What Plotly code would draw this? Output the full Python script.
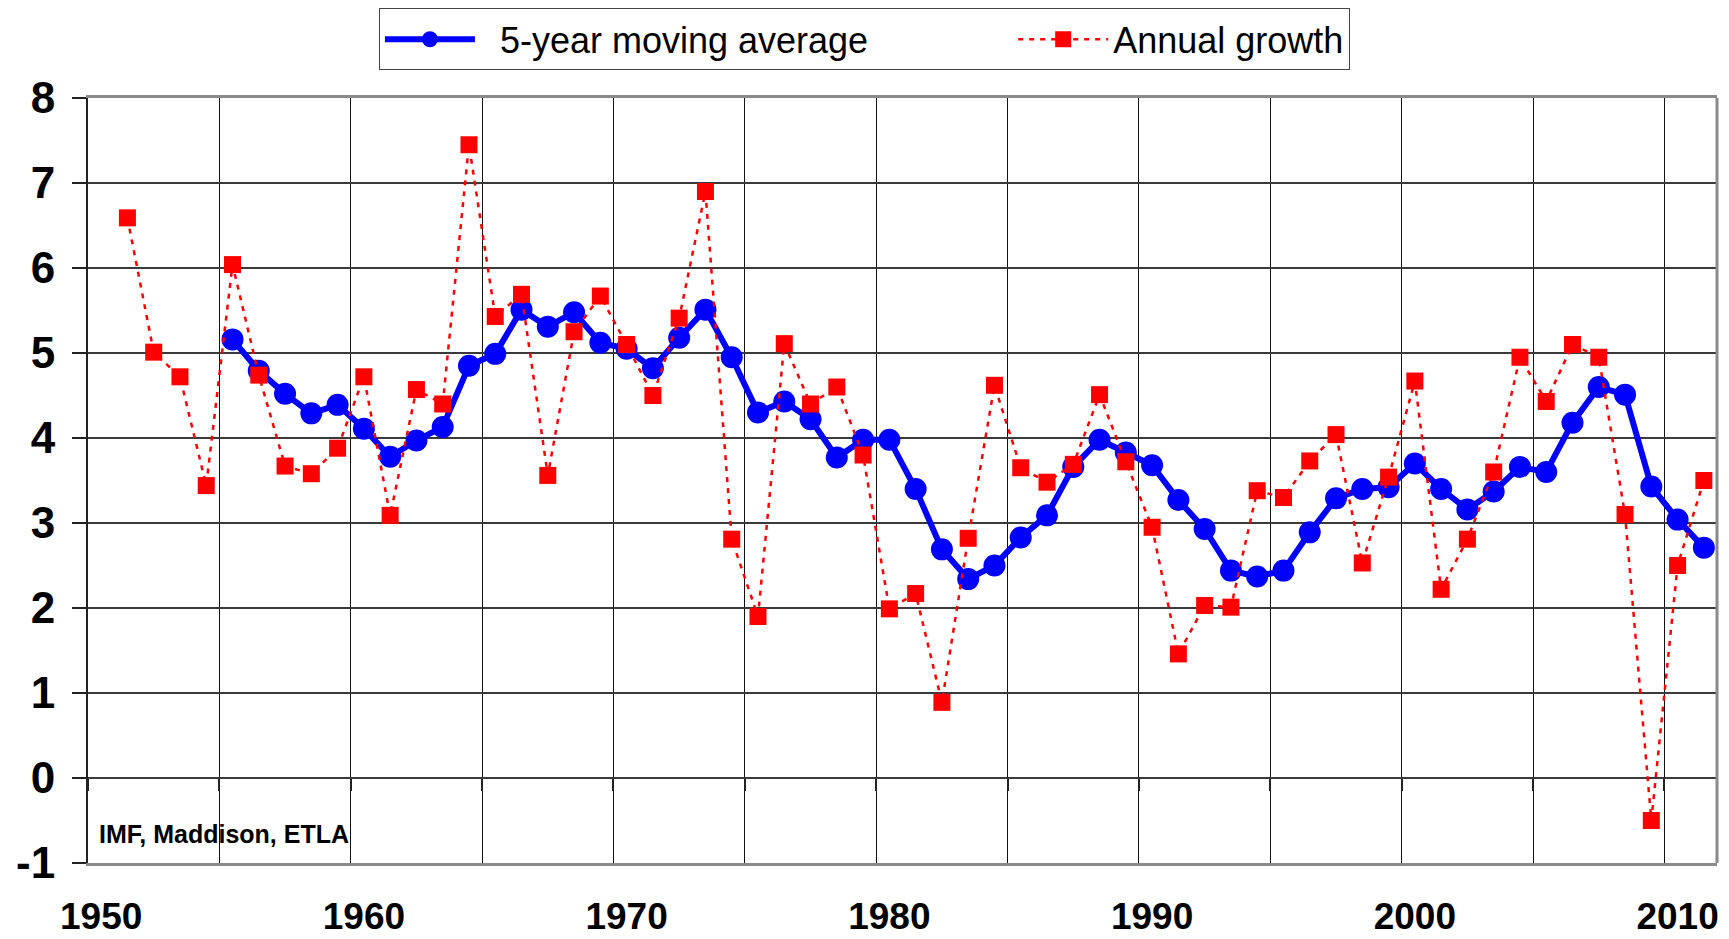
import plotly.graph_objects as go

years_avg = list(range(1955, 2012))
years_annual = list(range(1951, 2012))

annual_growth = [
    6.59, 5.01, 4.72, 3.44, 6.04, 4.74, 3.67, 3.58, 3.88, 4.72,
    3.09, 4.57, 4.40, 7.45, 5.43, 5.69, 3.56, 5.25, 5.67, 5.10,
    4.50, 5.41, 6.90, 2.81, 1.90, 5.11, 4.40, 4.60, 3.80, 1.99,
    2.17, 0.89, 2.82, 4.62, 3.65, 3.48, 3.69, 4.51, 3.72, 2.95,
    1.46, 2.03, 2.01, 3.38, 3.30, 3.73, 4.04, 2.53, 3.54, 4.67,
    2.22, 2.81, 3.60, 4.95, 4.43, 5.10, 4.95, 3.10, -0.50, 2.50,
    3.50,
]

moving_avg = [
    5.16, 4.79, 4.52, 4.29, 4.39, 4.11, 3.78, 3.97, 4.13, 4.85,
    4.99, 5.51, 5.31, 5.48, 5.12, 5.05, 4.82, 5.18, 5.51, 4.95,
    4.30, 4.43, 4.22, 3.77, 3.98, 3.98, 3.40, 2.69, 2.34, 2.50,
    2.83, 3.09, 3.66, 3.98, 3.83, 3.68, 3.27, 2.93, 2.44, 2.37,
    2.44, 2.89, 3.29, 3.40, 3.42, 3.70, 3.40, 3.16, 3.37, 3.66,
    3.60, 4.18, 4.60, 4.51, 3.43, 3.04, 2.71,
]

x_tick_vals = [1950, 1960, 1970, 1980, 1990, 2000, 2010]
x_tick_text = ["1950", "1960", "1970", "1980", "1990", "2000", "2010"]
y_tick_vals = [-1, 0, 1, 2, 3, 4, 5, 6, 7, 8]
y_tick_text = ["-1", "0", "1", "2", "3", "4", "5", "6", "7", "8"]
source_text = "IMF, Maddison, ETLA"

FONT = "Arial, 'Liberation Sans', sans-serif"
NB = "\u00a0"

fig = go.Figure()
fig.add_trace(go.Scatter(
    x=years_avg, y=moving_avg, mode="lines+markers",
    name=NB * 2 + "5-year moving average" + NB * 14,
    line=dict(color="#0000FF", width=6),
    marker=dict(symbol="circle", size=22, color="#0000FF"),
))
fig.add_trace(go.Scatter(
    x=years_annual, y=annual_growth, mode="lines+markers",
    name="Annual growth",
    line=dict(color="#FF0000", width=2.5, dash="5px,6px"),
    marker=dict(symbol="square", size=17, color="#FF0000"),
))
# empty helper trace so the category-crossing axis (ticks on the zero line) is drawn
fig.add_trace(go.Scatter(x=[], y=[], xaxis="x2", yaxis="y", showlegend=False,
                         hoverinfo="skip"))

# The page places the figure 8px from the top-left corner (default body margin),
# so the figure is 8px smaller and margins are reduced by 8px on top/left.
fig.update_layout(
    width=1721, height=931,
    margin=dict(l=80, r=12, t=90, b=76, autoexpand=False),
    paper_bgcolor="white", plot_bgcolor="rgba(0,0,0,0)",
    font=dict(family=FONT, color="black"),
    showlegend=True,
    legend=dict(
        orientation="h", x=0.1786, y=1.1172, xanchor="left", yanchor="top",
        bgcolor="white", bordercolor="#444", borderwidth=1,
        font=dict(size=36, family=FONT, color="black"),
        itemwidth=90,
        traceorder="normal",
    ),
    xaxis=dict(
        range=[1949.5, 2011.5],
        tickvals=x_tick_vals, ticktext=x_tick_text,
        showgrid=False, zeroline=False,
        ticks="", ticklabelstandoff=19,
        tickfont=dict(size=37, family=FONT, color="black", weight="bold"),
        showline=True, mirror=True, linecolor="#8a8a8a", linewidth=3,
        minor=dict(tick0=1949.5, dtick=5, showgrid=True,
                   gridcolor="#111111", gridwidth=1, ticks=""),
    ),
    xaxis2=dict(
        overlaying="x", anchor="free", position=1 / 9,
        range=[1949.5, 2011.5],
        tick0=1949.5, dtick=5, ticks="outside", ticklen=12,
        tickcolor="#222", tickwidth=1.5,
        showticklabels=False, showgrid=False, showline=False, zeroline=False,
    ),
    yaxis=dict(
        range=[-1, 8], tickvals=y_tick_vals, ticktext=y_tick_text,
        showgrid=True, gridcolor="#3a3a3a", gridwidth=1.5,
        zeroline=False,
        ticks="outside", ticklen=14, tickcolor="#222", tickwidth=1.5,
        ticklabelstandoff=8,
        tickfont=dict(size=44, family=FONT, color="black", weight="bold"),
        showline=True, linecolor="#222", linewidth=2,
    ),
    shapes=[dict(type="line", xref="paper", yref="paper", x0=1, x1=1, y0=0, y1=1,
                 line=dict(color="#8a8a8a", width=3))],
    annotations=[dict(
        text=source_text, xref="paper", yref="y", x=0.0055, y=-0.655,
        xanchor="left", yanchor="middle", showarrow=False,
        font=dict(size=25, family=FONT, color="black", weight="bold"),
    )],
)

fig.write_html("out.html")
